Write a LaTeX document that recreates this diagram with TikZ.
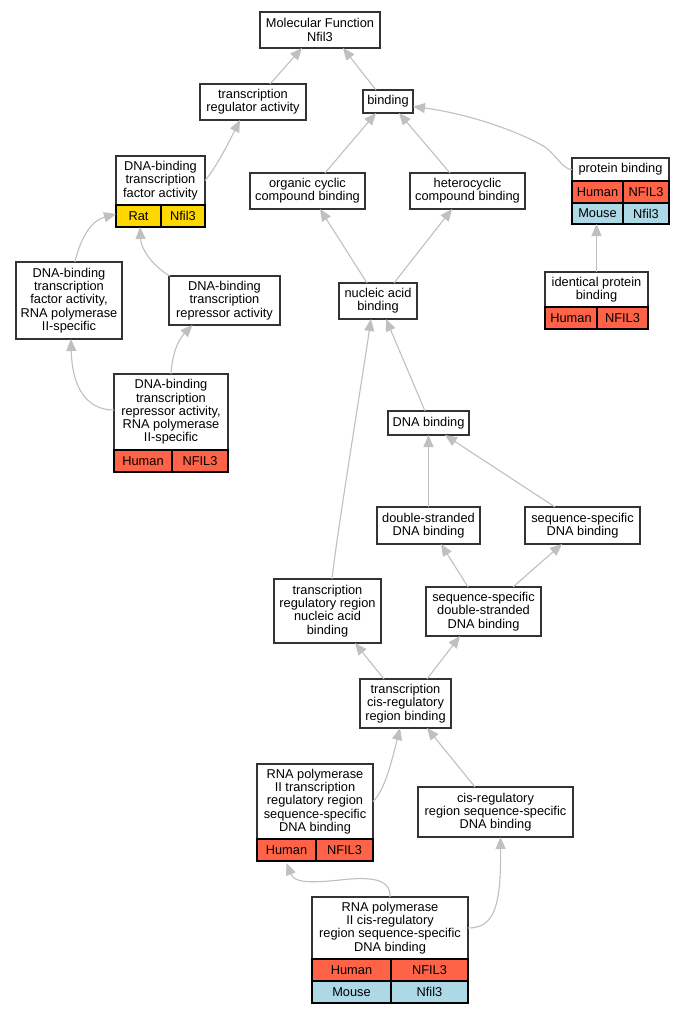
\documentclass[tikz,border=0pt]{standalone}
\usepackage{fontspec}
\setmainfont{Liberation Sans}
\usetikzlibrary{arrows.meta}
\definecolor{human}{HTML}{FF6347}
\definecolor{mouse}{HTML}{ADD8E6}
\definecolor{rat}{HTML}{FFD700}
\definecolor{edgegray}{HTML}{C0C0C0}
\definecolor{boxline}{HTML}{333333}
\begin{document}
\begin{tikzpicture}[x=1pt,y=-1pt,
  box/.style={draw=boxline, line width=1.1pt, fill=white, inner sep=0pt, outer sep=0pt, align=center, font=\fontsize{12.8}{13.3}\selectfont},
  cell/.style={draw=black, line width=1.1pt, inner sep=0pt, outer sep=0pt, minimum height=22pt, font=\fontsize{12.8}{13.3}\selectfont},
  edge/.style={draw=edgegray, line width=1.1pt, -{Triangle[length=12pt,width=10pt]}}]
\fill[white] (0,0) rectangle (684,1013);
\useasboundingbox (0,0) rectangle (684,1013);

\node[box, minimum width=120pt, minimum height=36pt] (mf) at (320,30) {Molecular Function\\Nfil3};
\node[box, minimum width=106pt, minimum height=36pt] (tra) at (253,102) {transcription\\regulator activity};
\node[box, minimum width=50pt, minimum height=23pt] (bind) at (388,101.5) {binding};

\node[box, minimum width=89pt, minimum height=49pt] (dbtfa) at (160.5,180.5) {DNA-binding\\transcription\\factor activity};
\node[cell, fill=rat, minimum width=45pt, anchor=north west] (dbtfa-s) at (dbtfa.south west) {Rat};
\node[cell, fill=rat, minimum width=44pt, anchor=north west] (dbtfa-g) at (dbtfa-s.north east) {Nfil3};

\node[box, minimum width=115pt, minimum height=36pt] (occ) at (307.5,191) {organic cyclic\\compound binding};
\node[box, minimum width=115pt, minimum height=36pt] (het) at (467.5,191) {heterocyclic\\compound binding};

\node[box, minimum width=97pt, minimum height=23pt] (pb) at (620.5,169.5) {protein binding};
\node[cell, fill=human, minimum width=51pt, anchor=north west] (pb-hs) at (pb.south west) {Human};
\node[cell, fill=human, minimum width=46pt, anchor=north west] (pb-hg) at (pb-hs.north east) {NFIL3};
\node[cell, fill=mouse, minimum width=51pt, minimum height=21pt, anchor=north west] (pb-ms) at (pb-hs.south west) {Mouse};
\node[cell, fill=mouse, minimum width=46pt, minimum height=21pt, anchor=north west] (pb-mg) at (pb-ms.north east) {Nfil3};

\node[box, minimum width=103pt, minimum height=35pt] (ipb) at (596.5,289.5) {identical protein\\binding};
\node[cell, fill=human, minimum width=52pt, anchor=north west] (ipb-hs) at (ipb.south west) {Human};
\node[cell, fill=human, minimum width=51pt, anchor=north west] (ipb-hg) at (ipb-hs.north east) {NFIL3};

\node[box, minimum width=78pt, minimum height=36pt] (nab) at (378,301) {nucleic acid\\binding};
\node[box, minimum width=106pt, minimum height=77pt] (dbtf2) at (69,300.5) {DNA-binding\\transcription\\factor activity,\\RNA polymerase\\II-specific};
\node[box, minimum width=111pt, minimum height=49pt] (dbtr) at (224.5,300.5) {DNA-binding\\transcription\\repressor activity};

\node[box, minimum width=114pt, minimum height=76pt] (dbtr2) at (171,412) {DNA-binding\\transcription\\repressor activity,\\RNA polymerase\\II-specific};
\node[cell, fill=human, minimum width=58pt, anchor=north west] (dbtr2-s) at (dbtr2.south west) {Human};
\node[cell, fill=human, minimum width=56pt, anchor=north west] (dbtr2-g) at (dbtr2-s.north east) {NFIL3};

\node[box, minimum width=81pt, minimum height=24pt] (dnab) at (428.5,423) {DNA binding};
\node[box, minimum width=103pt, minimum height=37pt] (ds) at (428.5,525.5) {double-stranded\\DNA binding};
\node[box, minimum width=115pt, minimum height=37pt] (ss) at (582.5,525.5) {sequence-specific\\DNA binding};
\node[box, minimum width=115pt, minimum height=49pt] (ssds) at (483.5,611.5) {sequence-specific\\double-stranded\\DNA binding};
\node[box, minimum width=107pt, minimum height=64pt] (trr) at (327.5,611) {transcription\\regulatory region\\nucleic acid\\binding};
\node[box, minimum width=91pt, minimum height=49pt] (tcrb) at (405.5,703.5) {transcription\\cis-regulatory\\region binding};

\node[box, minimum width=116pt, minimum height=75pt] (r2trr) at (315,801.5) {RNA polymerase\\II transcription\\regulatory region\\sequence-specific\\DNA binding};
\node[cell, fill=human, minimum width=59pt, anchor=north west] (r2trr-s) at (r2trr.south west) {Human};
\node[cell, fill=human, minimum width=57pt, anchor=north west] (r2trr-g) at (r2trr-s.north east) {NFIL3};

\node[box, minimum width=155pt, minimum height=50pt] (crs) at (495.5,812) {cis-regulatory\\region sequence-specific\\DNA binding};

\node[box, minimum width=156pt, minimum height=62pt] (rcis) at (390,928) {RNA polymerase\\II cis-regulatory\\region sequence-specific\\DNA binding};
\node[cell, fill=human, minimum width=79pt, anchor=north west] (rcis-hs) at (rcis.south west) {Human};
\node[cell, fill=human, minimum width=77pt, anchor=north west] (rcis-hg) at (rcis-hs.north east) {NFIL3};
\node[cell, fill=mouse, minimum width=79pt, anchor=north west] (rcis-ms) at (rcis-hs.south west) {Mouse};
\node[cell, fill=mouse, minimum width=77pt, anchor=north west] (rcis-mg) at (rcis-ms.north east) {Nfil3};

% edges
\draw[edge] ([xshift=17pt]tra.north) -- ([xshift=-18pt]mf.south);
\draw[edge] ([xshift=-12pt]bind.north) -- ([xshift=23pt]mf.south);
\draw[edge] (dbtfa.east) .. controls (216,168) and (230,140) .. ([xshift=-13pt]tra.south);
\draw[edge] ([xshift=17.5pt]occ.north) -- ([xshift=-12pt]bind.south);
\draw[edge] ([xshift=-17.5pt]het.north) -- ([xshift=11pt]bind.south);
\draw[edge] (pb.west) .. controls (563,169.5) and (558,157) .. (545,147) .. controls (520,132) and (470,114) .. ([yshift=-5pt]bind.east);
\draw[edge] (ipb.north) -- (ipb.north |- pb-ms.south);
\draw[edge] ([xshift=-11pt]nab.north) -- ([xshift=12.5pt]occ.south);
\draw[edge] ([xshift=16pt]nab.north) -- ([xshift=-15.5pt]het.south);
\draw[edge] ([xshift=6pt]dbtf2.north) .. controls (80,240) and (90,221) .. ([yshift=2pt]dbtfa-s.west);
\draw[edge] ([xshift=1pt]dbtr.north west) .. controls (155,268) and (141,250) .. ([xshift=1.5pt]dbtfa-s.south);
\draw[edge] ([yshift=2pt]dbtr2.west) .. controls (85,410) and (72,385) .. ([xshift=2pt]dbtf2.south);
\draw[edge] (dbtr2.north) .. controls (172,355) and (178,340) .. ([xshift=-32pt]dbtr.south);
\draw[edge] ([xshift=-3.5pt]dnab.north) -- ([xshift=8pt]nab.south);
\draw[edge] ([xshift=4.5pt]trr.north) .. controls (336,540) and (362,380) .. ([xshift=-7pt]nab.south);
\draw[edge] (ds.north) -- (dnab.south);
\draw[edge] ([xshift=-27.5pt]ss.north) -- ([xshift=16.5pt]dnab.south);
\draw[edge] ([xshift=-15.5pt]ssds.north) -- ([xshift=12.5pt]ds.south);
\draw[edge] ([xshift=29.5pt]ssds.north) -- ([xshift=-20.5pt]ss.south);
\draw[edge] ([xshift=-21.5pt]tcrb.north) -- ([xshift=27.5pt]trr.south);
\draw[edge] ([xshift=21.5pt]tcrb.north) -- ([xshift=-23.5pt]ssds.south);
\draw[edge] (r2trr.east) .. controls (385,790) and (392,760) .. ([xshift=-5.5pt]tcrb.south);
\draw[edge] ([xshift=-20.5pt]crs.north) -- ([xshift=21.5pt]tcrb.south);
\draw[edge] (rcis.north) .. controls (391,882) and (378,877) .. (350,879) .. controls (320,882) and (295,885) .. ([yshift=-2pt]r2trr-s.south);
\draw[edge] (rcis.east) .. controls (495,928) and (501,905) .. ([xshift=5pt]crs.south);
\end{tikzpicture}
\end{document}
